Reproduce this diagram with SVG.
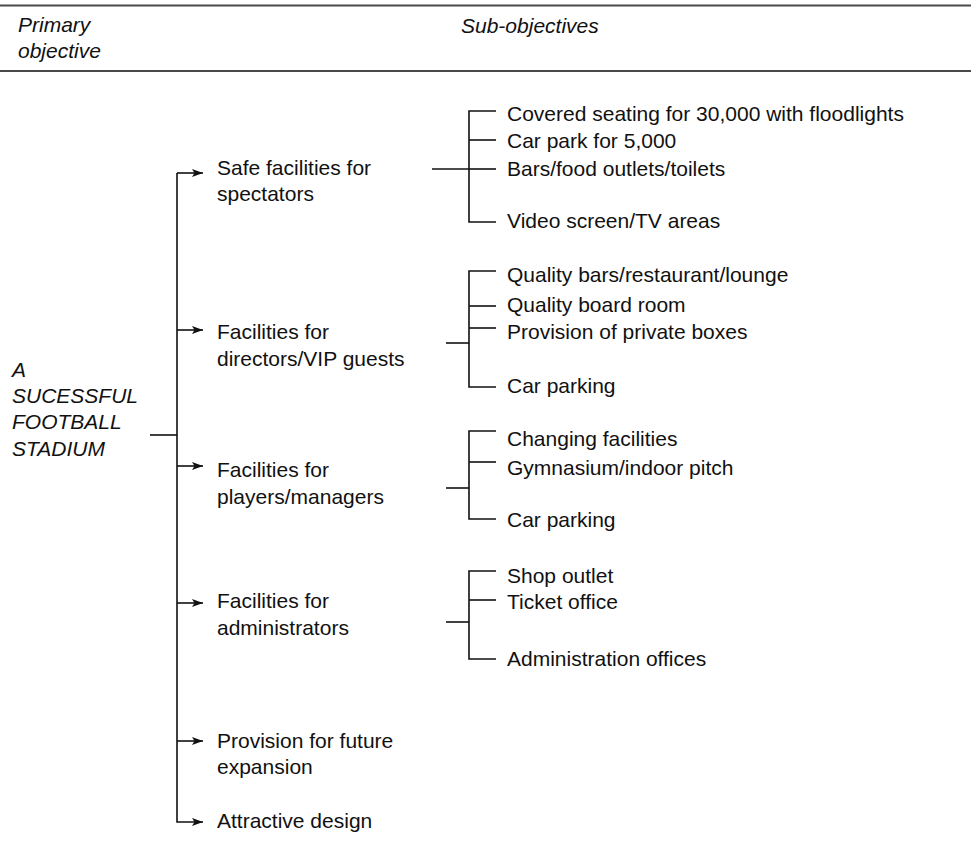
<svg xmlns="http://www.w3.org/2000/svg" width="971" height="864" viewBox="0 0 971 864">
  <style>
    text { font-family: "Liberation Sans", Arial, Helvetica, sans-serif; font-size: 21px; fill: #111; }
    .it { font-style: italic; }
    .rule { stroke: #4a4a4a; stroke-width: 2.2; fill: none; }
    .ln { stroke: #111; stroke-width: 1.6; fill: none; }
  </style>
  <defs>
    <marker id="arrow" markerUnits="userSpaceOnUse" markerWidth="12" markerHeight="10" refX="11" refY="4" orient="auto">
      <path d="M0,0 L11,4 L0,8 L2.5,4 z" fill="#111"/>
    </marker>
  </defs>
  <rect width="971" height="864" fill="#fff"/>

  <!-- header band -->
  <g id="header">
    <line class="rule" x1="0" y1="5.5" x2="971" y2="5.5"/>
    <line class="rule" x1="0" y1="71" x2="971" y2="71"/>
    <text class="it" x="18" y="32">Primary</text>
    <text class="it" x="18" y="58">objective</text>
    <text class="it" x="461" y="33">Sub-objectives</text>
  </g>

  <!-- connectors -->
  <g id="connectors">
    <!-- trunk from primary objective -->
    <line class="ln" x1="150" y1="435" x2="177" y2="435"/>
    <polyline class="ln" points="177,173 177,822 203,822" marker-end="url(#arrow)"/>
    <line class="ln" x1="177" y1="173" x2="203" y2="173" marker-end="url(#arrow)"/>
    <line class="ln" x1="177" y1="330" x2="203" y2="330" marker-end="url(#arrow)"/>
    <line class="ln" x1="177" y1="466" x2="203" y2="466" marker-end="url(#arrow)"/>
    <line class="ln" x1="177" y1="603" x2="203" y2="603" marker-end="url(#arrow)"/>
    <line class="ln" x1="177" y1="741" x2="203" y2="741" marker-end="url(#arrow)"/>

    <!-- spectators bracket -->
    <line class="ln" x1="432" y1="169" x2="469" y2="169"/>
    <polyline class="ln" points="496,111 469,111 469,222 496,222"/>
    <line class="ln" x1="469" y1="140" x2="496" y2="140"/>
    <line class="ln" x1="469" y1="169" x2="496" y2="169"/>

    <!-- directors bracket -->
    <line class="ln" x1="446" y1="343" x2="469" y2="343"/>
    <polyline class="ln" points="496,271 469,271 469,387 496,387"/>
    <line class="ln" x1="469" y1="306" x2="496" y2="306"/>
    <line class="ln" x1="469" y1="328" x2="496" y2="328"/>

    <!-- players bracket -->
    <line class="ln" x1="446" y1="488" x2="469" y2="488"/>
    <polyline class="ln" points="496,431 469,431 469,519 496,519"/>
    <line class="ln" x1="469" y1="462" x2="496" y2="462"/>

    <!-- administrators bracket -->
    <line class="ln" x1="446" y1="622" x2="469" y2="622"/>
    <polyline class="ln" points="496,571 469,571 469,659 496,659"/>
    <line class="ln" x1="469" y1="600" x2="496" y2="600"/>
  </g>

  <!-- primary objective -->
  <g id="primary">
    <text class="it" x="12" y="377">A</text>
    <text class="it" x="12" y="403">SUCESSFUL</text>
    <text class="it" x="12" y="429">FOOTBALL</text>
    <text class="it" x="12" y="456">STADIUM</text>
  </g>

  <!-- sub-objectives -->
  <g id="spectators">
    <text x="217" y="175">Safe facilities for</text>
    <text x="217" y="201">spectators</text>
  </g>
  <g id="directors">
    <text x="217" y="339">Facilities for</text>
    <text x="217" y="366">directors/VIP guests</text>
  </g>
  <g id="players">
    <text x="217" y="477">Facilities for</text>
    <text x="217" y="504">players/managers</text>
  </g>
  <g id="administrators">
    <text x="217" y="608">Facilities for</text>
    <text x="217" y="635">administrators</text>
  </g>
  <g id="expansion">
    <text x="217" y="748">Provision for future</text>
    <text x="217" y="774">expansion</text>
  </g>
  <g id="design">
    <text x="217" y="828">Attractive design</text>
  </g>

  <!-- detailed items -->
  <g id="spectators-items">
    <text x="507" y="121">Covered seating for 30,000 with floodlights</text>
    <text x="507" y="148">Car park for 5,000</text>
    <text x="507" y="176">Bars/food outlets/toilets</text>
    <text x="507" y="228">Video screen/TV areas</text>
  </g>
  <g id="directors-items">
    <text x="507" y="282">Quality bars/restaurant/lounge</text>
    <text x="507" y="312">Quality board room</text>
    <text x="507" y="339">Provision of private boxes</text>
    <text x="507" y="393">Car parking</text>
  </g>
  <g id="players-items">
    <text x="507" y="446">Changing facilities</text>
    <text x="507" y="475">Gymnasium/indoor pitch</text>
    <text x="507" y="527">Car parking</text>
  </g>
  <g id="administrators-items">
    <text x="507" y="583">Shop outlet</text>
    <text x="507" y="609">Ticket office</text>
    <text x="507" y="666">Administration offices</text>
  </g>
</svg>
